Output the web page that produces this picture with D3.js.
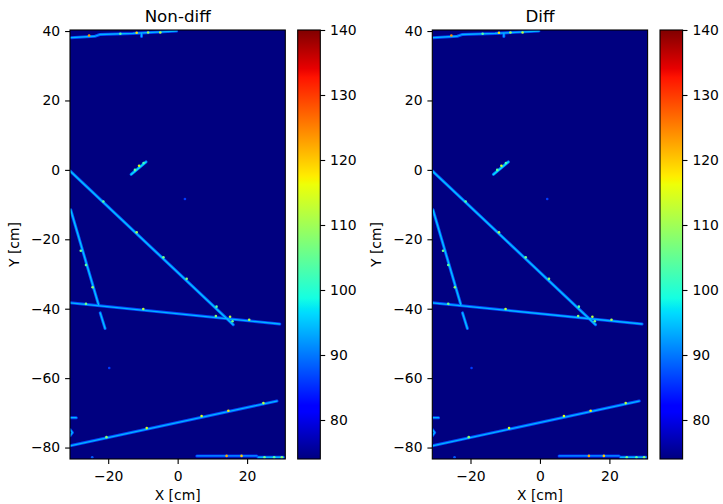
<!DOCTYPE html>
<html>
<head>
<meta charset="utf-8">
<script src="https://cdn.jsdelivr.net/npm/d3@7"></script>
<style>
  html, body { margin: 0; padding: 0; background: #fff; }
  svg { display: block; font-family: "DejaVu Sans", sans-serif; }
</style>
</head>
<body>
<svg id="chart" width="723" height="504"></svg>
<script>
// ---- data -------------------------------------------------------------
const panelTitles = ["Non-diff", "Diff"];
const xDomain = [-31, 31];          // cm
const yDomain = [-83.3, 40.3];      // cm
const chargeDomain = [74, 140];     // colour range
const xTicks = [-20, 0, 20];
const yTicks = [-80, -60, -40, -20, 0, 20, 40];
const colorTicks = [80, 90, 100, 110, 120, 130, 140];

// reconstructed track polylines [x, y] in cm
const tracks = [
  [[-31.0, -0.3], [16.0, -44.6]],                                   // long diagonal
  [[-30.8, -11.5], [-22.8, -38.8]],                                 // steep track, upper part
  [[-22.3, -41.2], [-20.9, -45.7]],                                 // steep track, lower part
  [[-31.0, -38.3], [29.4, -44.4]],                                  // near-horizontal track
  [[-31.0, -79.5], [28.6, -66.6]],                                  // lower rising track
  [[-13.4, -1.3], [-9.1, 2.3]],                                     // short stub near origin
  [[-30.8, 38.1], [-23.8, 38.5], [-22.4, 39.0], [-12.9, 39.3], [-0.3, 40.0]], // top edge track
  [[-10.4, 39.3], [-10.4, 38.4]],                                   // small branch on top track
  [[5.5, -82.4], [22.8, -82.4]],                                    // bottom edge track
  [[23.2, -82.8], [30.5, -82.8]],                                   // bottom edge track, end
  [[-31.0, -71.4], [-29.2, -71.4]],                                 // short edge stub
  [[-31.0, -74.8], [-30.3, -75.7], [-31.0, -76.6]]                  // edge kink
];
const trackCharge = [95, 95, 95, 94, 94, 97, 94, 94, 92, 94, 94, 94];

// isolated deposits and hot spots [x, y, charge]
const hits = [
  [-11.1, 1.2, 114], [-12.3, 0.0, 104], [-9.8, 2.0, 102],
  [-21.4, -9.1, 104], [-11.8, -18.0, 110], [-4.1, -25.2, 106],
  [2.6, -31.4, 108], [11.2, -39.4, 104], [15.1, -42.3, 112], [15.8, -43.6, 106],
  [-27.9, -23.3, 106], [-26.4, -27.4, 104], [-24.5, -33.8, 108],
  [-26.4, -38.6, 106], [-9.9, -40.1, 112], [11.0, -42.1, 108], [20.6, -43.2, 111],
  [-20.5, -77.0, 108], [-8.9, -74.4, 114], [6.9, -70.9, 115], [14.6, -69.4, 118], [24.7, -67.2, 112],
  [-25.5, 38.7, 124], [-11.8, 39.5, 118], [-8.5, 39.6, 110], [-5.0, 39.6, 112], [-16.5, 39.2, 104],
  [14.1, -82.4, 122], [18.4, -82.4, 120], [25.0, -82.8, 106], [27.8, -82.8, 104], [30.0, -82.8, 108],
  [-24.6, -82.8, 88], [-19.7, -57.1, 86], [2.1, -8.4, 86]
];

// ---- colour map (jet) ----------------------------------------------------
const jetStops = [0, 0.11, 0.125, 0.34, 0.35, 0.375, 0.64, 0.65, 0.66, 0.89, 0.91, 1];
const jetColors = [
  "rgb(0,0,128)", "rgb(0,0,255)", "rgb(0,0,255)", "rgb(0,219,255)", "rgb(0,230,247)",
  "rgb(21,255,226)", "rgb(238,255,8)", "rgb(247,246,0)", "rgb(255,236,0)",
  "rgb(255,19,0)", "rgb(232,0,0)", "rgb(128,0,0)"
];
const color = d3.scaleLinear()
  .domain(jetStops.map(t => chargeDomain[0] + t * (chargeDomain[1] - chargeDomain[0])))
  .range(jetColors)
  .interpolate(d3.interpolateRgb)
  .clamp(true);

// ---- layout ---------------------------------------------------------------
const svg = d3.select("#chart");
const axW = 215.3, axTop = 30, axBottom = 459;
const panelLeft = [70, 432.3];
const cbarGap = 12.4, cbarW = 22.6;
const fontTick = 13.9, fontLabel = 13.9, fontTitle = 16.7;

const defs = svg.append("defs");
const grad = defs.append("linearGradient")
  .attr("id", "jet").attr("x1", 0).attr("y1", 1).attr("x2", 0).attr("y2", 0);
jetStops.forEach((t, i) => grad.append("stop").attr("offset", t).attr("stop-color", jetColors[i]));
defs.append("filter").attr("id", "soft")
  .append("feGaussianBlur").attr("stdDeviation", 0.5);

const line = d3.line();

panelTitles.forEach((title, p) => {
  const left = panelLeft[p];
  const x = d3.scaleLinear().domain(xDomain).range([left, left + axW]);
  const y = d3.scaleLinear().domain(yDomain).range([axBottom, axTop]);
  const g = svg.append("g");

  const clipId = "clip" + p;
  defs.append("clipPath").attr("id", clipId)
    .append("rect").attr("x", left).attr("y", axTop)
    .attr("width", axW).attr("height", axBottom - axTop);

  // image background: lowest value of the colour range
  g.append("rect").attr("x", left).attr("y", axTop)
    .attr("width", axW).attr("height", axBottom - axTop)
    .attr("fill", color(chargeDomain[0]));

  const marks = g.append("g").attr("clip-path", `url(#${clipId})`)
    .append("g").attr("filter", "url(#soft)");

  const paths = tracks.map(t => t.map(([a, b]) => [x(a), y(b)]));
  // halo then core of each track
  marks.selectAll("path.halo").data(paths).join("path")
    .attr("class", "halo").attr("d", line).attr("fill", "none")
    .attr("stroke", (d, i) => color(trackCharge[i] - 7))
    .attr("stroke-width", 3.0).attr("stroke-linecap", "round").attr("stroke-linejoin", "round");
  marks.selectAll("path.core").data(paths).join("path")
    .attr("class", "core").attr("d", line).attr("fill", "none")
    .attr("stroke", (d, i) => color(trackCharge[i]))
    .attr("stroke-width", 1.3).attr("stroke-linecap", "round").attr("stroke-linejoin", "round");

  marks.selectAll("circle.hit").data(hits).join("circle")
    .attr("class", "hit")
    .attr("cx", d => x(d[0])).attr("cy", d => y(d[1]))
    .attr("r", 1.3)
    .attr("fill", d => color(d[2]));

  // axes
  const ax = g.append("g").attr("transform", `translate(0,${axBottom})`)
    .call(d3.axisBottom(x).tickValues(xTicks).tickSize(4.9).tickPadding(6.8).tickSizeOuter(0));
  const ay = g.append("g").attr("transform", `translate(${left},0)`)
    .call(d3.axisLeft(y).tickValues(yTicks).tickSize(4.9).tickPadding(4.9).tickSizeOuter(0));
  [ax, ay].forEach(a => {
    a.select(".domain").remove();
    a.selectAll("line").attr("stroke", "#000").attr("stroke-width", 1.1);
    a.selectAll("text").attr("font-size", fontTick).attr("fill", "#000")
      .attr("font-family", "DejaVu Sans, sans-serif");
  });

  g.append("rect").attr("x", left).attr("y", axTop)
    .attr("width", axW).attr("height", axBottom - axTop)
    .attr("fill", "none").attr("stroke", "#000").attr("stroke-width", 1.1);

  // labels and title
  g.append("text").attr("x", left + axW / 2).attr("y", 500.3)
    .attr("text-anchor", "middle").attr("font-size", fontLabel).text("X [cm]");
  g.append("text")
    .attr("transform", `translate(${left - 51},${(axTop + axBottom) / 2}) rotate(-90)`)
    .attr("text-anchor", "middle").attr("font-size", fontLabel).text("Y [cm]");
  g.append("text").attr("x", left + axW / 2).attr("y", 21.5)
    .attr("text-anchor", "middle").attr("font-size", fontTitle).text(title);

  // colour bar
  const cx0 = left + axW + cbarGap;
  const cy = d3.scaleLinear().domain(chargeDomain).range([axBottom, axTop]);
  g.append("rect").attr("x", cx0).attr("y", axTop)
    .attr("width", cbarW).attr("height", axBottom - axTop)
    .attr("fill", "url(#jet)");
  const ac = g.append("g").attr("transform", `translate(${cx0 + cbarW},0)`)
    .call(d3.axisRight(cy).tickValues(colorTicks).tickSize(4.9).tickPadding(4.9).tickSizeOuter(0));
  ac.select(".domain").remove();
  ac.selectAll("line").attr("stroke", "#000").attr("stroke-width", 1.1);
  ac.selectAll("text").attr("font-size", fontTick).attr("fill", "#000")
    .attr("font-family", "DejaVu Sans, sans-serif");
  g.append("rect").attr("x", cx0).attr("y", axTop)
    .attr("width", cbarW).attr("height", axBottom - axTop)
    .attr("fill", "none").attr("stroke", "#000").attr("stroke-width", 1.1);
});
</script>
</body>
</html>
